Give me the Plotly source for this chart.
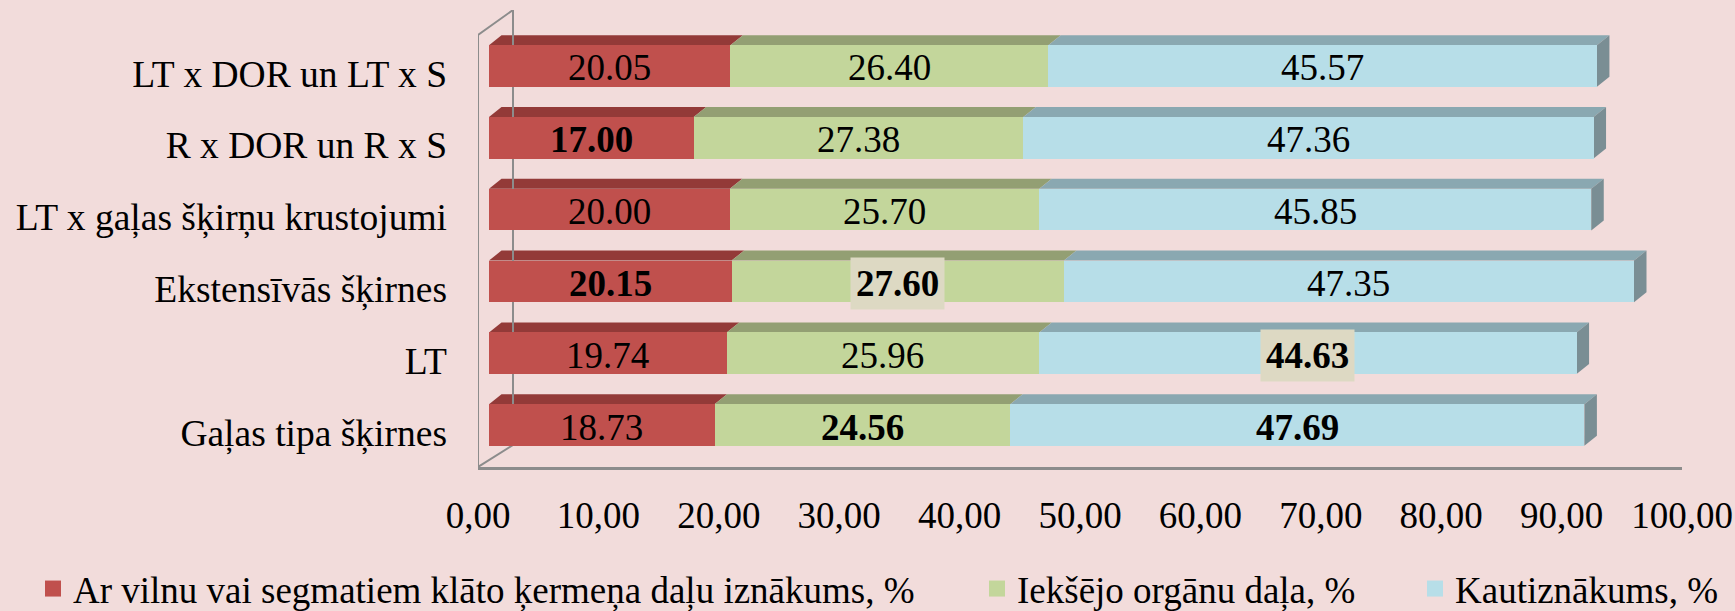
import plotly.graph_objects as go

# ---------------- data ----------------
categories = [
    "Gaļas tipa šķirnes",
    "LT",
    "Ekstensīvās šķirnes",
    "LT x gaļas šķirņu krustojumi",
    "R x DOR un R x S",
    "LT x DOR un LT x S",
]
wool_part = [18.73, 19.74, 20.15, 20.00, 17.00, 20.05]
organs_part = [24.56, 25.96, 27.60, 25.70, 27.38, 26.40]
carcass_yield = [47.69, 44.63, 47.35, 45.85, 47.36, 45.57]
series_names = [
    "Ar vilnu vai segmatiem klāto ķermeņa daļu iznākums, %",
    "Iekšējo orgānu daļa, %",
    "Kautiznākums, %",
]
x_ticks = [0, 10, 20, 30, 40, 50, 60, 70, 80, 90, 100]

# label emphasis (style flags)
bold_flags = [
    [False, False, True, False, True, False],
    [True, False, True, False, False, False],
    [True, True, False, False, False, False],
]
boxed_flags = [
    [False] * 6,
    [False, False, True, False, False, False],
    [False, True, False, False, False, False],
]

# ---------------- style ----------------
BG = "#F2DCDB"
front_colors = ["#C0504D", "#C3D69B", "#B7DEE8"]
top_colors = ["#933A38", "#939F73", "#8AA8B1"]
side_color = "#7A8E94"
wall_color = "#8C8C8C"
FONT = "Liberation Serif"

W, H = 1735, 611
ML, MR, MT, MB = 478, 53, 10, 144
plot_w = W - ML - MR
plot_h = H - MT - MB
px_x = plot_w / 100.0                 # px per x unit
bar_shift_px = 11                     # bars sit behind floor front plane
label_y_shift_px = 7.5
y0_lab, y1_lab = -0.480, 5.884
unit_y = plot_h / (y1_lab - y0_lab)
shift_x = bar_shift_px / px_x
shift_y = label_y_shift_px / unit_y
bar_w = 0.58
depth_dx = 12.5 / px_x
depth_dy = 10 / unit_y

series = [wool_part, organs_part, carcass_yield]

fig = go.Figure()

# invisible trace establishing the label axis categories
fig.add_trace(go.Scatter(x=[0] * len(categories), y=categories, mode="none",
                         showlegend=False, hoverinfo="skip", xaxis="x", yaxis="y"))

for i, vals in enumerate(series):
    fig.add_trace(go.Bar(
        y=categories, x=vals, orientation="h", name=series_names[i],
        marker=dict(color=front_colors[i], line=dict(width=0)),
        showlegend=False, xaxis="x2", yaxis="y2", hoverinfo="x+y",
    ))

# 3D faces and labels computed from the data
shapes = []
annotations = []
for j, cat in enumerate(categories):
    left = 0.0
    yb = j - bar_w / 2
    yt = j + bar_w / 2
    for i, vals in enumerate(series):
        right = left + vals[j]
        path = (f"M {left},{yt} L {right},{yt} L {right + depth_dx},{yt + depth_dy} "
                f"L {left + depth_dx},{yt + depth_dy} Z")
        shapes.append(dict(type="path", path=path, xref="x2", yref="y2",
                           fillcolor=top_colors[i], line=dict(width=0), layer="below"))
        txt = f"{vals[j]:.2f}"
        if bold_flags[i][j]:
            txt = f"<b>{txt}</b>"
        ann = dict(x=(left + right) / 2, y=j, xref="x2", yref="y2", text=txt,
                   showarrow=False, font=dict(family=FONT, size=37, color="black"),
                   xanchor="center", yanchor="middle", yshift=-2)
        if boxed_flags[i][j]:
            ann.update(bgcolor="#DDD9C3", borderpad=5)
        annotations.append(ann)
        left = right
    side = (f"M {left},{yb} L {left + depth_dx},{yb + depth_dy} "
            f"L {left + depth_dx},{yt + depth_dy} L {left},{yt} Z")
    shapes.append(dict(type="path", path=side, xref="x2", yref="y2",
                       fillcolor=side_color, line=dict(width=0), layer="below"))

# left wall outline (3D frame)
wall_dx = 35 / px_x
wall_top_front = y1_lab - 25 / unit_y
wall_bottom_back = y0_lab + 22 / unit_y
wall = (f"M 0,{y0_lab} L 0,{wall_top_front} L {wall_dx},{y1_lab} "
        f"L {wall_dx},{wall_bottom_back} Z")
shapes.append(dict(type="path", path=wall, xref="x", yref="y",
                   line=dict(color=wall_color, width=2), layer="below"))

# legend entries
legend_lefts = [33, 977, 1415]
for i, name in enumerate(series_names):
    fig.add_trace(go.Scatter(
        x=[None], y=[None], mode="markers", name=name,
        marker=dict(symbol="square", size=18, color=front_colors[i]),
        legend="legend" if i == 0 else f"legend{i + 1}",
        xaxis="x", yaxis="y",
    ))

leg_y = (H - MB - 589) / plot_h
legend_common = dict(orientation="h", yanchor="middle", xanchor="left",
                     bgcolor="rgba(0,0,0,0)", font=dict(family=FONT, size=37, color="black"))

fig.update_layout(
    width=W, height=H,
    margin=dict(l=ML, r=MR, t=MT, b=MB, pad=0, autoexpand=False),
    paper_bgcolor=BG, plot_bgcolor=BG,
    font=dict(family=FONT, size=37, color="black"),
    separators=", ",
    barmode="stack", bargap=1 - bar_w,
    xaxis=dict(range=[0, 100], tickvals=x_ticks, tickformat=".2f",
               showgrid=False, zeroline=False, showline=True,
               linecolor=wall_color, linewidth=2.5, ticks="",
               ticklabelstandoff=14, tickfont=dict(size=37)),
    yaxis=dict(type="category", categoryorder="array", categoryarray=categories,
               range=[y0_lab, y1_lab], showgrid=False, zeroline=False,
               showline=False, ticks="", ticklabelstandoff=30,
               tickfont=dict(size=37.5)),
    xaxis2=dict(overlaying="x", anchor="y2", range=[-shift_x, 100 - shift_x],
                visible=False, showgrid=False, zeroline=False),
    yaxis2=dict(overlaying="y", anchor="x2", type="category",
                categoryorder="array", categoryarray=categories,
                range=[y0_lab - shift_y, y1_lab - shift_y],
                visible=False, showgrid=False, zeroline=False),
    shapes=shapes,
    annotations=annotations,
    legend=dict(x=(legend_lefts[0] - ML) / plot_w, y=leg_y, **legend_common),
    legend2=dict(x=(legend_lefts[1] - ML) / plot_w, y=leg_y, **legend_common),
    legend3=dict(x=(legend_lefts[2] - ML) / plot_w, y=leg_y, **legend_common),
)

fig.write_html("out.html", config={"displayModeBar": False},
               post_script="document.body.style.margin='0';")
